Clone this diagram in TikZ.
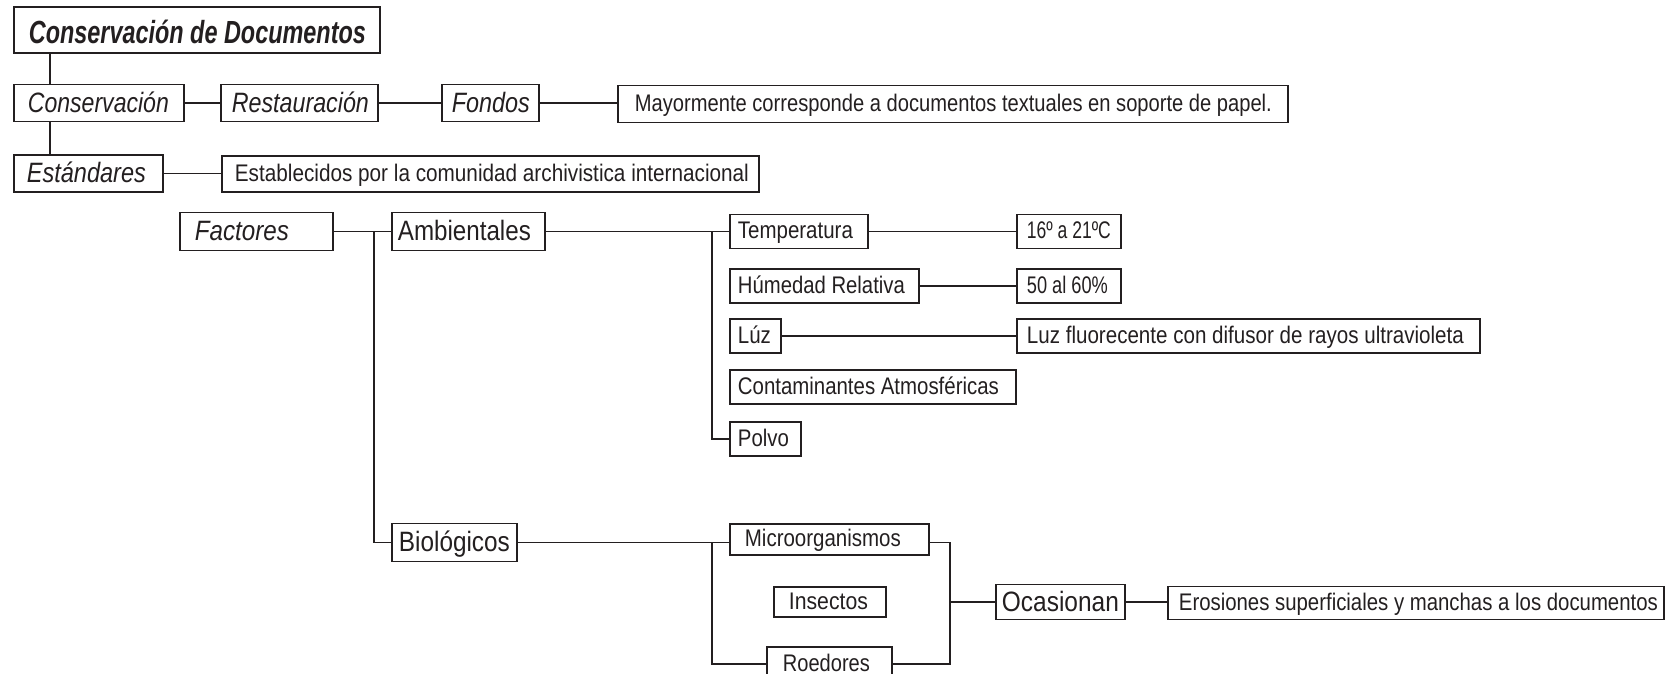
\documentclass[tikz,border=0pt]{standalone}
\usepackage{fontspec}
\setmainfont{Liberation Sans}
\usepackage{graphicx}
\definecolor{lc}{RGB}{35,31,32}
\newsavebox\fitbx
\newdimen\fitlen
\newcommand\fitto[2]{\sbox\fitbx{#2}\fitlen=\wd\fitbx\scalebox{\fpeval{#1/\fitlen}}[1]{\usebox\fitbx}}
\newcommand\tx[4]{\makebox[#1pt][l]{\hspace*{#2pt}\fitto{#3}{#4}}}
\tikzset{
  bx/.style={draw=lc, line width=1.8pt, anchor=west, inner sep=0pt, text=lc},
  sm/.style={bx, font=\fontsize{24}{24}\selectfont, text height=18pt, text depth=4pt},
  lg/.style={bx, font=\fontsize{28}{28}\selectfont, text height=22pt, text depth=4pt},
  it/.style={lg, font=\fontsize{28}{28}\selectfont\itshape},
  ttl/.style={bx, font=\fontsize{32}{32}\selectfont\bfseries\itshape, text height=26pt, text depth=0pt},
  conn/.style={draw=lc, line width=1.6pt}
}
\begin{document}
\begin{tikzpicture}[x=1pt,y=-1pt]
\useasboundingbox (0,0) rectangle (1668,673);
\clip (0,0) rectangle (1668,673);
% nodes
\node[ttl, minimum height=46] (title) at (13,30) {\tx{366}{15}{337}{Conservación de Documentos}};
\node[it, minimum height=37] (cons) at (13,103) {\tx{170}{14}{141}{Conservación}};
\node[it, minimum height=37] (rest) at (220,103) {\tx{157}{11}{137}{Restauración}};
\node[it, minimum height=37] (fondos) at (441,103) {\tx{97}{10}{78}{Fondos}};
\node[sm, minimum height=37] (mayor) at (617,104) {\tx{670}{17}{637}{Mayormente corresponde a documentos textuales en soporte de papel.}};
\node[it, minimum height=37] (estand) at (13,173.5) {\tx{149}{13}{119}{Estándares}};
\node[sm, minimum height=36] (estab) at (221,174) {\tx{537}{13}{514}{Establecidos por la comunidad archivistica internacional}};
\node[it, minimum height=38] (fact) at (179,231.5) {\tx{153}{15}{94}{Factores}};
\node[lg, minimum height=38] (amb) at (391,231.5) {\tx{153}{6}{133}{Ambientales}};
\node[sm, minimum height=34] (temp) at (729,231.5) {\tx{138}{8}{115}{Temperatura}};
\node[sm, minimum height=34] (deg) at (1016,231.5) {\tx{104}{10}{84}{16º a 21ºC}};
\node[sm, minimum height=34] (hum) at (729,286) {\tx{189}{8}{167}{Húmedad Relativa}};
\node[sm, minimum height=34] (pct) at (1016,286) {\tx{104}{10}{81}{50 al 60\%}};
\node[sm, minimum height=34] (luz) at (729,336) {\tx{51}{8}{33}{Lúz}};
\node[sm, minimum height=34] (luzf) at (1016,336) {\tx{463}{10}{437}{Luz fluorecente con difusor de rayos ultravioleta}};
\node[sm, minimum height=34] (cont) at (729,387) {\tx{286}{8}{261}{Contaminantes Atmosféricas}};
\node[sm, minimum height=34] (polvo) at (729,439) {\tx{71}{8}{51}{Polvo}};
\node[lg, minimum height=38] (bio) at (391,542.5) {\tx{125}{7}{111}{Biológicos}};
\node[sm, minimum height=31] (micro) at (729,539.5) {\tx{199}{15}{156}{Microorganismos}};
\node[sm, minimum height=30] (insect) at (773,602) {\tx{112}{15}{79}{Insectos}};
\node[sm, minimum height=34] (roed) at (766,664) {\tx{125}{16}{87}{Roedores}};
\node[lg, minimum height=35] (ocas) at (995,602) {\tx{129}{6}{117}{Ocasionan}};
\node[sm, minimum height=33] (eros) at (1167,603) {\tx{496}{11}{479}{Erosiones superficiales y manchas a los documentos}};
% junction columns
\coordinate (ja) at (50,0);
\coordinate (jb) at (374,0);
\coordinate (jc) at (712,0);
\coordinate (jd) at (950,0);
% connectors
\draw[conn] (ja |- title.south) -- (ja |- cons.north);
\draw[conn] (ja |- cons.south) -- (ja |- estand.north);
\draw[conn] (cons.east) -- (rest.west);
\draw[conn] (rest.east) -- (fondos.west);
\draw[conn] (fondos.east) -- (fondos.east -| mayor.west);
\draw[conn] (estand.east) -- (estand.east -| estab.west);
\draw[conn] (fact.east) -- (amb.west);
\draw[conn] (jb |- amb.west) -- (jb |- bio.west) -- (bio.west);
\draw[conn] (amb.east) -- (amb.east -| temp.west);
\draw[conn] (jc |- amb.east) -- (jc |- polvo.west) -- (polvo.west);
\draw[conn] (temp.east) -- (temp.east -| deg.west);
\draw[conn] (hum.east) -- (hum.east -| pct.west);
\draw[conn] (luz.east) -- (luz.east -| luzf.west);
\draw[conn] (bio.east) -- (bio.east -| micro.west);
\draw[conn] (jc |- bio.east) -- (jc |- roed.west) -- (roed.west);
\draw[conn] (micro.east |- bio.east) -- (jd |- bio.east) -- (jd |- roed.east) -- (roed.east);
\draw[conn] (jd |- ocas.west) -- (ocas.west);
\draw[conn] (ocas.east) -- (ocas.east -| eros.west);
\end{tikzpicture}
\end{document}
